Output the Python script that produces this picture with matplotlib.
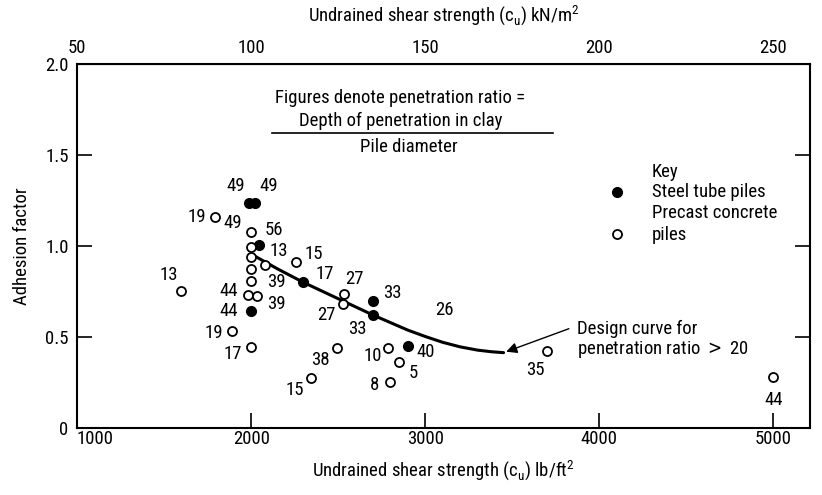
import matplotlib
matplotlib.use("Agg")
import matplotlib.pyplot as plt
from matplotlib.lines import Line2D

plt.rcParams['font.family'] = ['Roboto Condensed', 'Liberation Sans Narrow', 'DejaVu Sans']
plt.rcParams['font.stretch'] = 'condensed'

# steel tube piles (filled)
steel_cu = [1985, 2020, 2048, 2000, 2300, 2700, 2700, 2900]
steel_alpha = [1.235, 1.235, 1.005, 0.64, 0.80, 0.70, 0.62, 0.45]
steel_ratio = ['49', '49', '56', '44', '17', '33', '33', '40']

# precast concrete piles (open)
precast_cu = [1600, 1790, 2000, 2000, 2000, 2000, 2000, 2080, 1980, 2035,
              1890, 2000, 2260, 2535, 2530, 2495, 2345, 2785, 2850, 2800,
              3700, 5000]
precast_alpha = [0.755, 1.16, 1.075, 0.996, 0.938, 0.873, 0.809, 0.895, 0.730, 0.725,
                 0.534, 0.442, 0.914, 0.736, 0.679, 0.440, 0.275, 0.437, 0.363, 0.250,
                 0.424, 0.279]
precast_ratio = ['13', '19', '49', '', '', '', '39', '13', '44', '39',
                 '19', '17', '15', '27', '27', '38', '15', '10', '5', '8',
                 '35', '44']

# design curve
curve_cu = [2020, 2150, 2300, 2500, 2700, 2900, 3000, 3100, 3200, 3300, 3380, 3450]
curve_alpha = [0.945, 0.875, 0.80, 0.71, 0.62, 0.537, 0.502, 0.470, 0.445, 0.427, 0.418, 0.413]

# label offsets in pixels (dx, dy)
steel_off = [(-13, 17), (14, 17), (14, 15), (-22, 0), (21, 8), (19, 8), (-16, -14), (18, -6)]
precast_off = [(-13, 16), (-18, 0), (-18, 9), (0, 0), (0, 0), (0, 0), (25, -1), (14, 14),
               (-19, 4), (19, -8), (-18, -2), (-18, -7), (17, 8), (10, 15), (-17, -11),
               (-17, -12), (-16, -12), (-15, -8), (14, -11), (-16, -3), (-12, -19), (0, -23)]

fs_num = 13.5
fs_txt = 13.5

fig = plt.figure(figsize=(8.22, 4.95), dpi=100)
ax = fig.add_axes([0.0937, 0.136, 0.8917, 0.734])

ax.plot(curve_cu, curve_alpha, color='black', lw=2.2, zorder=2, solid_capstyle='round')
ax.plot(steel_cu, steel_alpha, 'o', ms=7, mfc='black', mec='black', zorder=3)
ax.plot(precast_cu, precast_alpha, 'o', ms=6.5, mfc='white', mec='black', mew=1.3, zorder=3)

for x, y, t, (dx, dy) in zip(steel_cu, steel_alpha, steel_ratio, steel_off):
    ax.annotate(t, (x, y), xytext=(dx, dy), textcoords='offset pixels',
                ha='center', va='center', fontsize=fs_num)
for x, y, t, (dx, dy) in zip(precast_cu, precast_alpha, precast_ratio, precast_off):
    if t:
        ax.annotate(t, (x, y), xytext=(dx, dy), textcoords='offset pixels',
                    ha='center', va='center', fontsize=fs_num)
ax.text(3110, 0.65, '26', ha='center', va='center', fontsize=fs_num)

ax.set_xlim(1000, 5210)
ax.set_ylim(0, 2.0)
ax.set_xticks([1000, 2000, 3000, 4000, 5000])
ax.set_yticks([0, 0.5, 1.0, 1.5, 2.0])
ax.set_yticklabels(['0', '0.5', '1.0', '1.5', '2.0'])
ax.tick_params(axis='both', direction='in', length=11, width=1.2, labelsize=fs_num)
ax.tick_params(axis='y', right=True, pad=6)
ax.tick_params(axis='x', pad=2)
ax.get_xticklabels()[0].set_horizontalalignment('left')
for s in ax.spines.values():
    s.set_linewidth(1.5)

ax.set_xlabel('Undrained shear strength (c$_\\mathregular{u}$) lb/ft$^\\mathregular{2}$', fontsize=fs_txt, labelpad=7)
ax.set_ylabel('Adhesion factor', fontsize=fs_txt, labelpad=10)

top = ax.secondary_xaxis('top', functions=(lambda v: v / 20.0, lambda v: v * 20.0))
top.set_xticks([50, 100, 150, 200, 250])
top.tick_params(direction='in', length=0, labelsize=fs_num, pad=5)
top.set_xlabel('Undrained shear strength (c$_\\mathregular{u}$) kN/m$^\\mathregular{2}$', fontsize=fs_txt, labelpad=13)

# ratio definition
ax.text(0.441, 0.907, 'Figures denote penetration ratio =', transform=ax.transAxes,
        ha='center', va='center', fontsize=fs_txt)
ax.text(0.441, 0.844, 'Depth of penetration in clay', transform=ax.transAxes,
        ha='center', va='center', fontsize=fs_txt)
ax.add_line(Line2D([0.266, 0.650], [0.811, 0.811], transform=ax.transAxes, color='black', lw=1.2))
ax.text(0.452, 0.772, 'Pile diameter', transform=ax.transAxes,
        ha='center', va='center', fontsize=fs_txt)

# key
ax.text(0.784, 0.704, 'Key', transform=ax.transAxes, ha='left', va='center', fontsize=fs_txt)
ax.plot([0.737], [0.649], 'o', ms=7, mfc='black', mec='black', transform=ax.transAxes)
ax.text(0.784, 0.649, 'Steel tube piles', transform=ax.transAxes, ha='left', va='center', fontsize=fs_txt)
ax.text(0.784, 0.591, 'Precast concrete', transform=ax.transAxes, ha='left', va='center', fontsize=fs_txt)
ax.plot([0.737], [0.533], 'o', ms=6.5, mfc='white', mec='black', mew=1.3, transform=ax.transAxes)
ax.text(0.784, 0.530, 'piles', transform=ax.transAxes, ha='left', va='center', fontsize=fs_txt)

# design curve callout
ax.annotate('', xy=(curve_cu[-1], curve_alpha[-1]), xytext=(3840, 0.55),
            arrowprops=dict(arrowstyle='-|>', color='black', lw=1.0, mutation_scale=16))
ax.text(0.682, 0.271, 'Design curve for', transform=ax.transAxes, ha='left', va='center', fontsize=fs_txt)
ax.text(0.682, 0.216, 'penetration ratio $>$ 20', transform=ax.transAxes, ha='left', va='center', fontsize=fs_txt)

fig.savefig('out.png', dpi=100)
